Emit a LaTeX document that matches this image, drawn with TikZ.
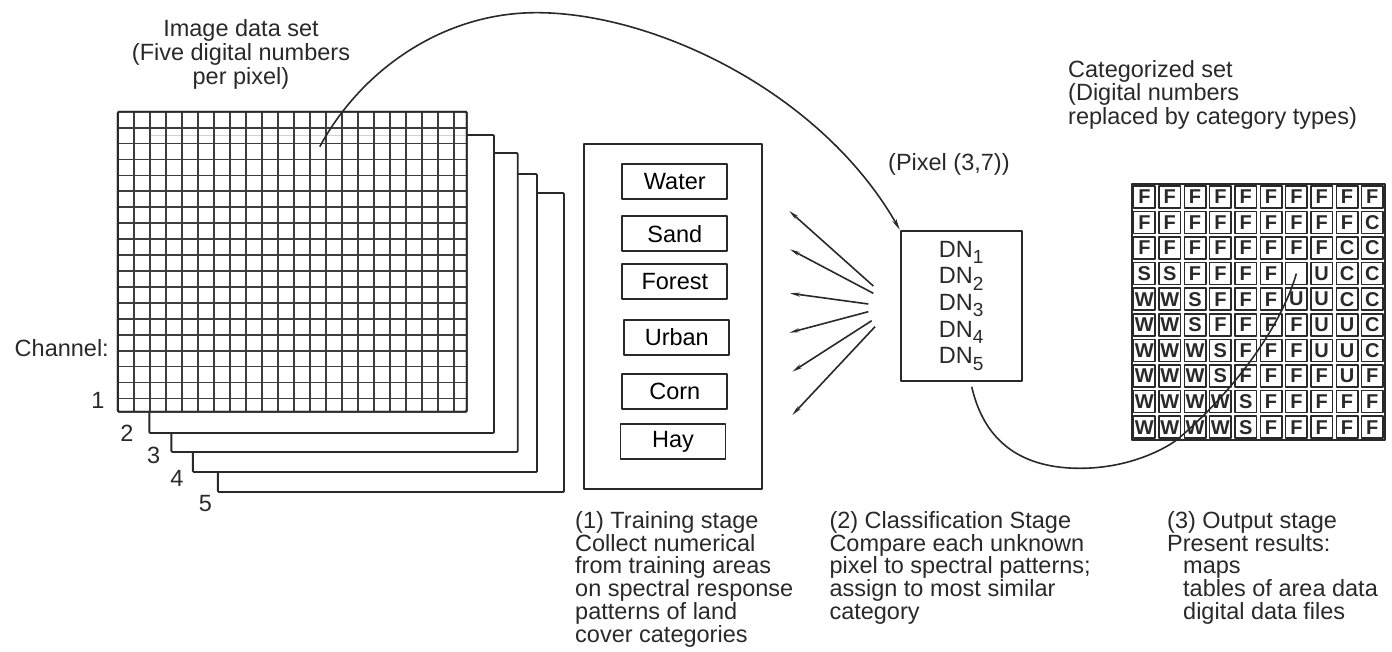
\documentclass[tikz,border=0pt]{standalone}
\usepackage{fontspec}
\setmainfont{Liberation Sans}
\usetikzlibrary{arrows.meta}

\definecolor{ink}{gray}{0.16}
\definecolor{gridink}{gray}{0.24}

% text helpers
\newcommand\lbl{\fontsize{23.5}{24}\selectfont}
\newcommand\cellfont{\fontsize{20}{20}\selectfont\bfseries}
\newcommand\ctrline[1]{\hbox to 0pt{\hss #1\hss}}
\newcommand\lline[1]{\hbox{#1}}
\newcommand\textblock[2]{\vtop{\baselineskip=#1\lineskiplimit=-30pt\lineskip=0pt #2}}
\newcommand\dnsub[1]{\raisebox{-6.5pt}{\fontsize{19}{19}\selectfont #1}}

\tikzset{
  sheet/.style={draw=ink, line width=1.9pt, fill=white, rounded corners=1pt},
  gridln/.style={draw=gridink, line width=1.8pt},
  frame/.style={draw=ink, line width=1.9pt, inner sep=0pt},
  catbox/.style={frame, minimum width=105pt, minimum height=35pt, font=\lbl},
  cell/.style={draw=ink, line width=1.5pt, minimum width=21.5pt, minimum height=22pt, inner sep=0pt, font=\cellfont, text=ink},
  txt/.style={inner sep=0pt, font=\lbl, text=ink},
  conn/.style={draw=ink, line width=1.6pt}
}

\begin{document}
\begin{tikzpicture}[x=1pt, y=-1pt, line join=round]
\useasboundingbox (0,0) rectangle (1392,651);

% ---- stacked channels of the image data set ----
\draw[sheet] (217.9,193) rectangle (564,492);
\draw[sheet] (192.9,174) rectangle (537,472);
\draw[sheet] (171.4,153) rectangle (517.7,452);
\draw[sheet] (149.3,135) rectangle (494,433);
\draw[sheet] (117.9,111.7) rectangle (466.7,411.7);
\draw[gray!35, line width=1pt] (149.3,135) -- (466.7,135);
\foreach \i in {1,...,21}
  \draw[gridln] (117.9+16*\i,111.7) -- (117.9+16*\i,411.7);
\foreach \j in {1,...,18}
  \draw[gridln] (117.9,111.7+15.93*\j) -- (466.7,111.7+15.93*\j);
\draw[sheet, fill=none] (117.9,111.7) rectangle (466.7,411.7);
\coordinate (pix) at (319.8,146.7);

\node[txt, anchor=base] (imgset) at (241,36)
  {\textblock{24pt}{\ctrline{Image data set}\ctrline{(Five digital numbers}\ctrline{per pixel)}}};
\node[txt, anchor=base east] (channel) at (109,356.7) {Channel:};
\node[txt, anchor=base] (ch1) at (98,408.3) {1};
\node[txt, anchor=base] (ch2) at (126.8,441.7) {2};
\node[txt, anchor=base] (ch3) at (153.6,463.3) {3};
\node[txt, anchor=base] (ch4) at (176.8,486.7) {4};
\node[txt, anchor=base] (ch5) at (205.4,511) {5};

% ---- training stage ----
\node[frame, minimum width=177.7pt, minimum height=345.3pt] (train) at (672.85,316.65) {};
\node[catbox] (water)  at (674.8,181.8) {Water};
\node[catbox] (sand)   at (674.8,233.9) {Sand};
\node[catbox] (forest) at (674.8,281.8) {Forest};
\node[catbox] (urban)  at (676.8,337.5) {Urban};
\node[catbox] (corn)   at (674.8,391.8) {Corn};
\node[catbox] (hay)    at (673.0,441.7) {Hay};

% ---- classification stage ----
\node[txt, anchor=base west] (pixlbl) at (888,170) {(Pixel (3,7))};
\node[frame, minimum width=121pt, minimum height=150pt, font=\lbl, text=ink] (dn) at (961.2,305.7)
  {\textblock{26.7pt}{\lline{DN\dnsub{1}}\lline{DN\dnsub{2}}\lline{DN\dnsub{3}}\lline{DN\dnsub{4}}\lline{DN\dnsub{5}}}};

\coordinate (t1) at (789.3,211);   \coordinate (h1) at (873.3,286);
\coordinate (t2) at (790,249.3);   \coordinate (h2) at (873.3,293.3);
\coordinate (t3) at (790,293.3);   \coordinate (h3) at (868.3,304);
\coordinate (t4) at (789.3,332.7); \coordinate (h4) at (868.3,311.7);
\coordinate (t5) at (792.3,371.7); \coordinate (h5) at (871.7,320.7);
\coordinate (t6) at (792.3,415);   \coordinate (h6) at (875,326.7);
\foreach \k in {1,...,6}
  \draw[conn, {Stealth[length=10pt, width=4pt]}-] (t\k) -- (h\k);

% ---- categorized output grid ----
\foreach \row [count=\r] in {
  {F,F,F,F,F,F,F,F,F,F},
  {F,F,F,F,F,F,F,F,F,C},
  {F,F,F,F,F,F,F,F,C,C},
  {S,S,F,F,F,F,{},U,C,C},
  {W,W,S,F,F,F,U,U,C,C},
  {W,W,S,F,F,F,F,U,U,C},
  {W,W,W,S,F,F,F,U,U,C},
  {W,W,W,S,F,F,F,F,U,F},
  {W,W,W,W,S,F,F,F,F,F},
  {W,W,W,W,S,F,F,F,F,F}}
{
  \foreach \c [count=\k] in \row
    \node[cell] (c-\r-\k) at (1131.7+25.33*\k-12.665, 184+25.6*\r-12.8) {\c};
}
\draw[draw=ink, line width=2pt] (1131.7,184) rectangle (1385,440);

\node[txt, anchor=base west] (catset) at (1068,77.3)
  {\textblock{23.4pt}{\lline{Categorized set}\lline{(Digital numbers}\lline{replaced by category types)}}};

% ---- connectors ----
\draw[conn, -{Stealth[length=11pt, width=4.5pt]}] (pix)
  .. controls (360,72) and (440,14) .. (533,12.7)
  .. controls (650,11) and (820,90) .. (dn.north west);
\coordinate (dnout) at (971.7,386.7);
\draw[conn] (dnout)
  .. controls (985,445) and (1025,468.3) .. (1080,468.3)
  .. controls (1125,468.3) and (1160,452) .. (1176.7,440)
  .. controls (1230,395) and (1280,330) .. (c-4-7.center);

% ---- stage captions ----
\node[txt, anchor=base west] (cap1) at (575,528.3)
  {\textblock{22.8pt}{\lline{(1) Training stage}\lline{Collect numerical}\lline{from training areas}\lline{on spectral response}\lline{patterns of land}\lline{cover categories}}};
\node[txt, anchor=base west] (cap2) at (829.3,528.3)
  {\textblock{22.8pt}{\lline{(2) Classification Stage}\lline{Compare each unknown}\lline{pixel to spectral patterns;}\lline{assign to most similar}\lline{category}}};
\node[txt, anchor=base west] (cap3) at (1167,528.3)
  {\textblock{22.8pt}{\lline{(3) Output stage}\lline{Present results:}\lline{\hskip16pt maps}\lline{\hskip16pt tables of area data}\lline{\hskip16pt digital data files}}};
\end{tikzpicture}
\end{document}
